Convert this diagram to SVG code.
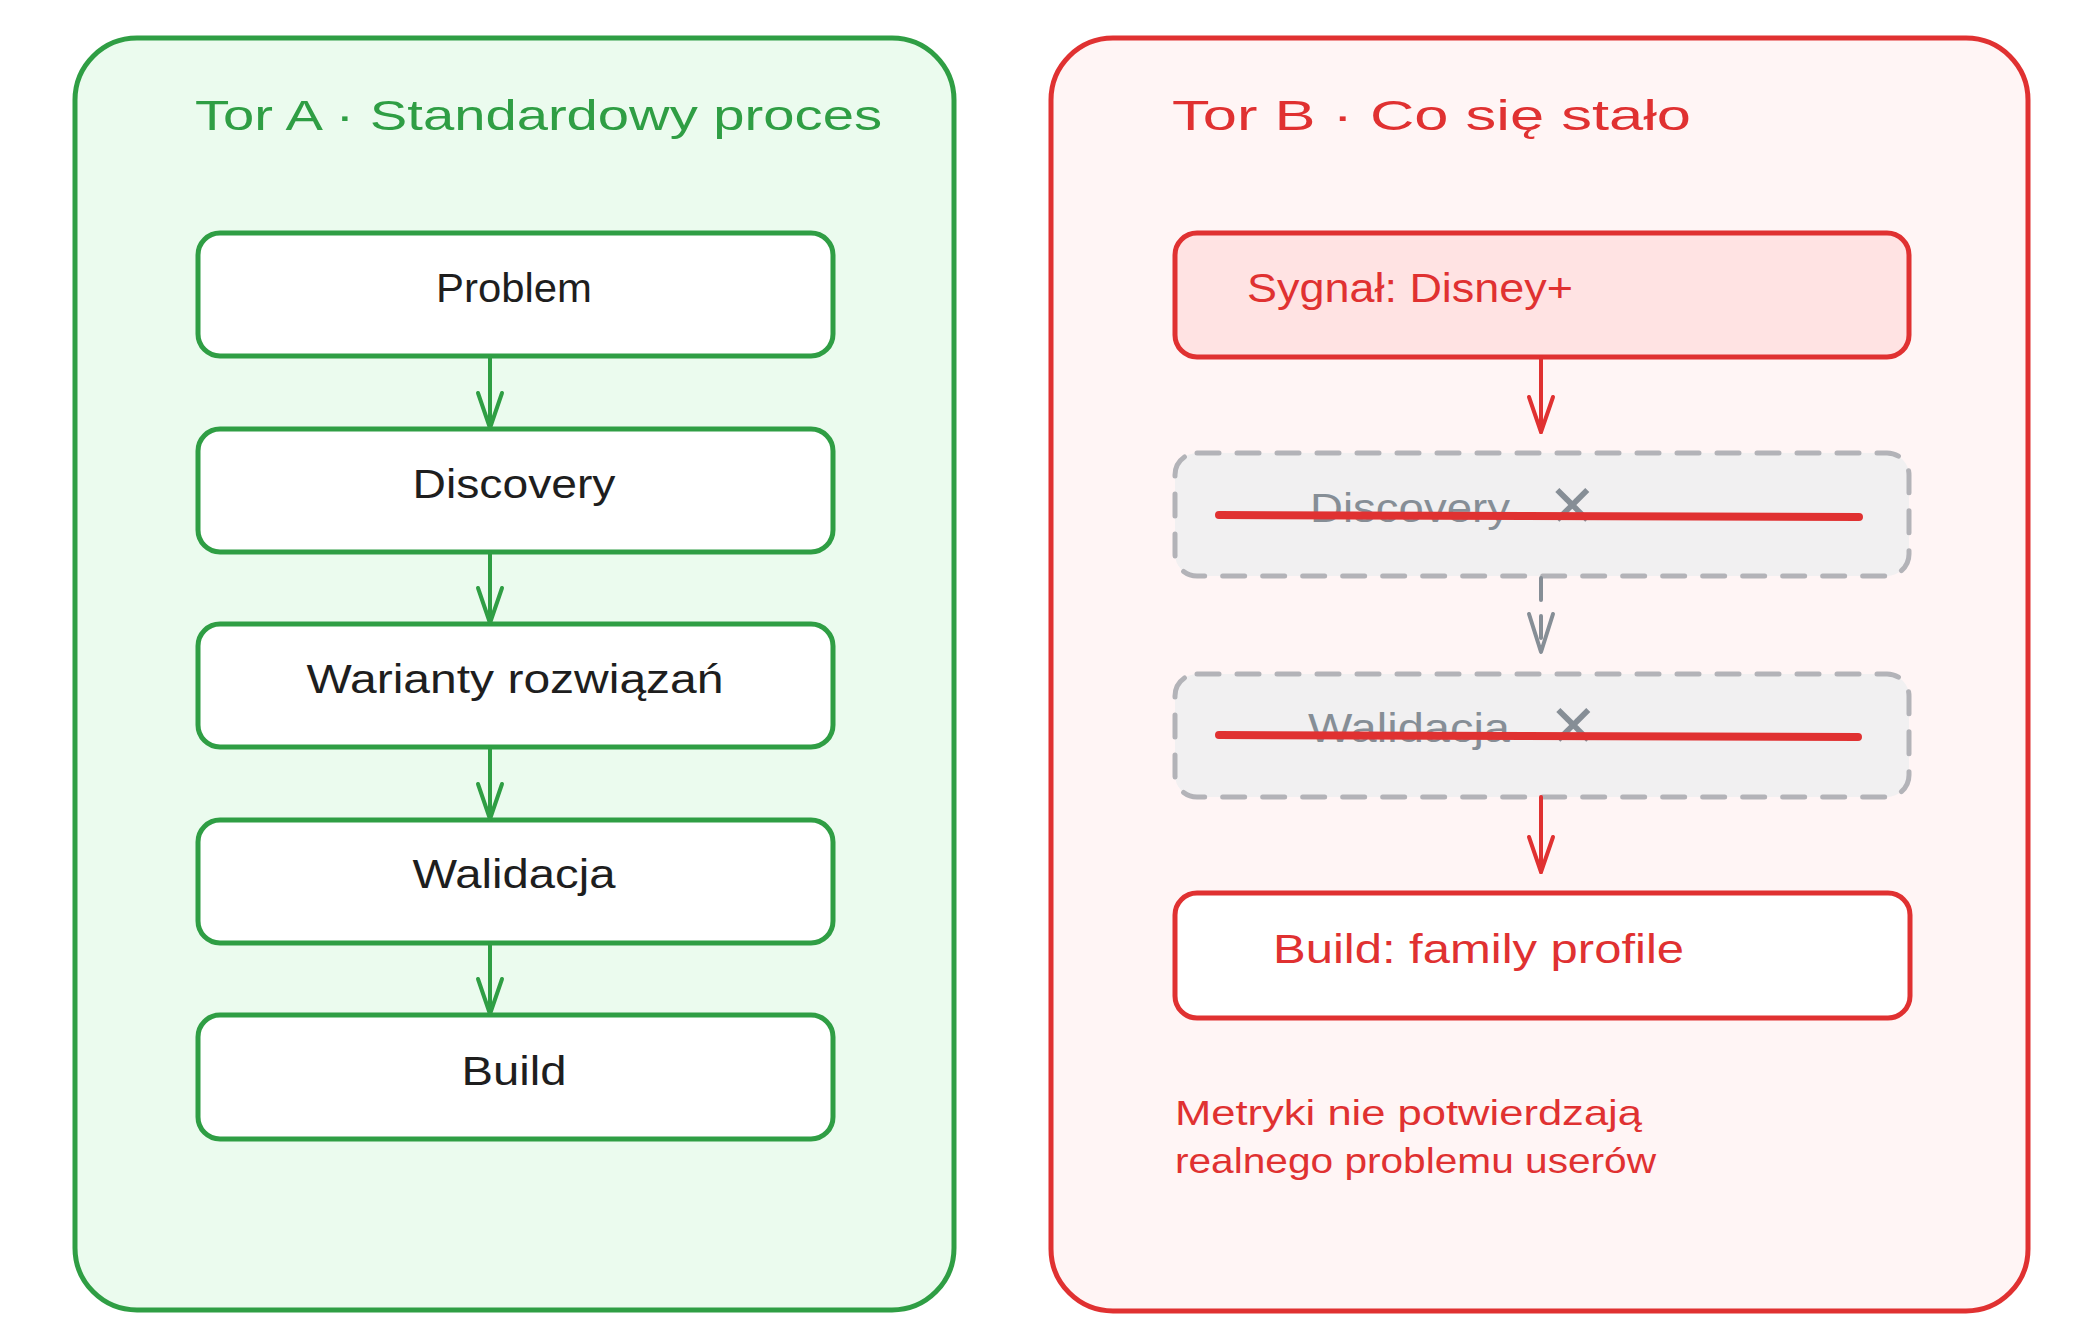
<svg xmlns="http://www.w3.org/2000/svg" width="2092" height="1344" viewBox="0 0 2092 1344">
<defs>
<style>
.t{font-family:"Liberation Sans","DejaVu Sans",sans-serif;}
.node{stroke-width:5;stroke-linejoin:round}
.gA{fill:#ffffff;stroke:#2f9e44}
.lbl{font-size:40px;fill:#1e1e1e}
.conn{fill:none;stroke-width:4;stroke-linecap:round}
.dash{fill:#f1f0f1;stroke:#b3b3b8;stroke-width:5;stroke-dasharray:22 18;stroke-linecap:round}
.strike{stroke:#e03131;stroke-width:8;stroke-linecap:round}
.gray{fill:#868e96;font-size:40px}
.x{font-family:"DejaVu Sans",sans-serif;font-size:58px}
.red{fill:#e03131}
</style>
<marker id="mg" markerUnits="userSpaceOnUse" markerWidth="40" markerHeight="40" refX="0" refY="0" orient="auto" overflow="visible">
<path d="M-35,-12 L0,0 L-35,12" fill="none" stroke="#2f9e44" stroke-width="4" stroke-linecap="round" stroke-linejoin="round"/>
</marker>
<marker id="mr" markerUnits="userSpaceOnUse" markerWidth="40" markerHeight="40" refX="0" refY="0" orient="auto" overflow="visible">
<path d="M-35,-12 L0,0 L-35,12" fill="none" stroke="#e03131" stroke-width="4" stroke-linecap="round" stroke-linejoin="round"/>
</marker>
<marker id="mx" markerUnits="userSpaceOnUse" markerWidth="40" markerHeight="40" refX="0" refY="0" orient="auto" overflow="visible">
<path d="M-38,-12 L0,0 L-38,12" fill="none" stroke="#868e96" stroke-width="4" stroke-linecap="round" stroke-linejoin="round" stroke-dasharray="none"/>
</marker>
</defs>
<rect width="2092" height="1344" fill="#ffffff"/>

<g id="laneA">
<rect x="75" y="38" width="879" height="1272" rx="62" fill="#ebfbee" stroke="#2f9e44" stroke-width="5"/>
<text class="t" x="195" y="130" font-size="42" fill="#2f9e44" textLength="687" lengthAdjust="spacingAndGlyphs">Tor A · Standardowy proces</text>
</g>

<g id="laneB">
<rect x="1051" y="38" width="977" height="1273" rx="62" fill="#fff5f5" stroke="#e03131" stroke-width="5"/>
<text class="t" x="1172" y="130" font-size="42" fill="#e03131" textLength="519" lengthAdjust="spacingAndGlyphs">Tor B · Co się stało</text>
</g>

<g id="a-problem">
<rect class="node gA" x="198" y="233" width="635" height="123" rx="22"/>
<text class="t lbl" x="514" y="302" text-anchor="middle" textLength="156" lengthAdjust="spacingAndGlyphs">Problem</text>
</g>
<g id="a-discovery">
<rect class="node gA" x="198" y="429" width="635" height="123" rx="22"/>
<text class="t lbl" x="514" y="498" text-anchor="middle" textLength="203" lengthAdjust="spacingAndGlyphs">Discovery</text>
</g>
<g id="a-warianty">
<rect class="node gA" x="198" y="624" width="635" height="123" rx="22"/>
<text class="t lbl" x="515" y="693" text-anchor="middle" textLength="417" lengthAdjust="spacingAndGlyphs">Warianty rozwiązań</text>
</g>
<g id="a-walidacja">
<rect class="node gA" x="198" y="820" width="635" height="123" rx="22"/>
<text class="t lbl" x="514" y="888" text-anchor="middle" textLength="203" lengthAdjust="spacingAndGlyphs">Walidacja</text>
</g>
<g id="a-build">
<rect class="node gA" x="198" y="1015" width="635" height="124" rx="22"/>
<text class="t lbl" x="514" y="1085" text-anchor="middle" textLength="105" lengthAdjust="spacingAndGlyphs">Build</text>
</g>

<g id="b-sygnal">
<rect class="node" x="1175" y="233" width="734" height="124" rx="22" fill="#ffe3e3" stroke="#e03131"/>
<text class="t red" x="1247" y="302" font-size="40" textLength="326" lengthAdjust="spacingAndGlyphs">Sygnał: Disney+</text>
</g>
<g id="b-discovery">
<rect class="dash" x="1175" y="453" width="734" height="123" rx="22"/>
<text class="t gray" y="522"><tspan x="1310" textLength="200" lengthAdjust="spacingAndGlyphs">Discovery</tspan><tspan class="x" x="1548" y="526">✕</tspan></text>
<line class="strike" x1="1219" y1="515" x2="1859" y2="517"/>
</g>
<g id="b-walidacja">
<rect class="dash" x="1175" y="674" width="734" height="123" rx="22"/>
<text class="t gray" y="742"><tspan x="1308" textLength="202" lengthAdjust="spacingAndGlyphs">Walidacja</tspan><tspan class="x" x="1549" y="746">✕</tspan></text>
<line class="strike" x1="1219" y1="735" x2="1858" y2="737"/>
</g>
<g id="b-build">
<rect class="node" x="1175" y="893" width="735" height="125" rx="22" fill="#ffffff" stroke="#e03131"/>
<text class="t red" x="1273" y="963" font-size="40" textLength="411" lengthAdjust="spacingAndGlyphs">Build: family profile</text>
</g>
<g id="b-note">
<text class="t red" font-size="35"><tspan x="1175" y="1125" textLength="467" lengthAdjust="spacingAndGlyphs">Metryki nie potwierdzają</tspan><tspan x="1175" y="1173" textLength="481" lengthAdjust="spacingAndGlyphs">realnego problemu userów</tspan></text>
</g>

<g id="connectors">
<line class="conn" stroke="#2f9e44" x1="490" y1="356" x2="490" y2="428" marker-end="url(#mg)"/>
<line class="conn" stroke="#2f9e44" x1="490" y1="552" x2="490" y2="623" marker-end="url(#mg)"/>
<line class="conn" stroke="#2f9e44" x1="490" y1="747" x2="490" y2="819" marker-end="url(#mg)"/>
<line class="conn" stroke="#2f9e44" x1="490" y1="943" x2="490" y2="1014" marker-end="url(#mg)"/>
<line class="conn" stroke="#e03131" x1="1541" y1="357" x2="1541" y2="432" marker-end="url(#mr)"/>
<line class="conn" stroke="#868e96" stroke-dasharray="22 16" x1="1541" y1="578" x2="1541" y2="652" marker-end="url(#mx)"/>
<line class="conn" stroke="#e03131" x1="1541" y1="797" x2="1541" y2="872" marker-end="url(#mr)"/>
</g>
</svg>
